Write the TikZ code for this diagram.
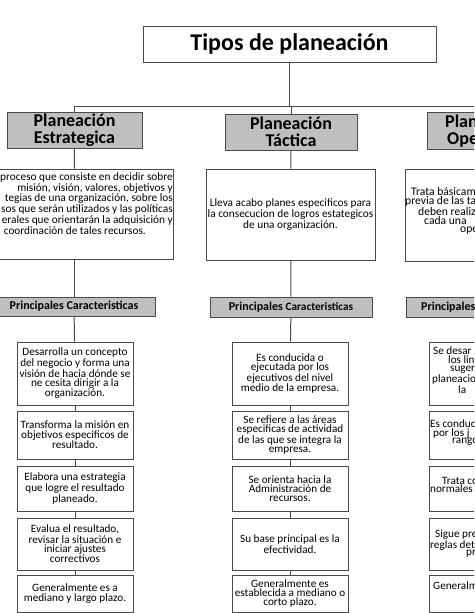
\documentclass[tikz,border=0pt]{standalone}
\usepackage{fontspec}
\setmainfont{Carlito}
\usetikzlibrary{positioning}
\definecolor{boxline}{HTML}{4A4A4A}
\definecolor{hdrfill}{HTML}{BFBFBF}
\tikzset{
  box/.style={draw=boxline, line width=1pt, fill=white, inner sep=1pt, align=center},
  hdr/.style={box, fill=hdrfill, font=\bfseries\fontsize{18}{16.7}\selectfont},
  prin/.style={box, fill=hdrfill, font=\bfseries\fontsize{12}{12}\selectfont},
  body/.style={font=\fontsize{11.2}{9.2}\selectfont},
  desc/.style={font=\fontsize{11.3}{9.2}\selectfont},
  frag/.style={inner sep=0pt, align=left, anchor=north west},
  link/.style={draw=boxline, line width=1pt},
}
\begin{document}
\begin{tikzpicture}[x=1pt,y=-1pt]
  \useasboundingbox (0,0) rectangle (474,613);
  \clip (0,0) rectangle (474,613);

  % title and bus
  \node[box, minimum width=293, minimum height=36, font=\bfseries\fontsize{24}{28}\selectfont] (title) at (289.5,44) {Tipos de planeación};
  \coordinate (busL) at (74.5,106); \coordinate (busR) at (480,106);

  % column headers
  \node[hdr, minimum width=135, minimum height=36] (estHdr) at (74.5,130) {Planeación\\Estrategica};
  \node[hdr, minimum width=132, minimum height=36] (tacHdr) at (291,132) {Planeación\\Táctica};
  \node[hdr, minimum width=132, minimum height=37] (opeHdr) at (493,130.5) {};
  \node[frag, font=\bfseries\fontsize{18}{16.7}\selectfont] (opeHdrTxt) at (445,114.5) {Plan\\\hspace*{2pt}Ope};

  % descriptions
  \node[box, minimum width=198, minimum height=90] (estDesc) at (74,214) {};
  \node[frag, desc, anchor=north east, align=right] (estDescTxt) at (173,172.5) {%
    proceso que consiste en decidir sobre\\
    misión, visión, valores, objetivos y\hspace*{17pt}\\
    tegias de una organización, sobre los\hspace*{4pt}\\
    sos que serán utilizados y las políticas\hspace*{1pt}\\
    erales que orientarán la adquisición y\hspace*{14pt}\\
    coordinación de tales recursos.\hspace*{27pt}};
  \node[box, desc, minimum width=169, minimum height=91] (tacDesc) at (290.5,214.5) {Lleva acabo planes especificos para\\la consecucion de logros estategicos\\de una organización.};
  \node[box, minimum width=169, minimum height=92] (opeDesc) at (489.5,215) {};
  \node[frag, font=\fontsize{11.6}{7.2}\selectfont] (opeDescTxt) at (405,187.5) {%
    \hspace*{6pt}Trata básicam\\
    previa de las ta\\
    \hspace*{13pt}deben realiz\\
    \hspace*{19pt}cada una\\
    \hspace*{55pt}ope};

  % principales caracteristicas
  \node[prin, minimum width=162, minimum height=19] (estPrin) at (74,306.5) {Principales Caracteristicas};
  \node[prin, minimum width=162, minimum height=20] (tacPrin) at (291,307) {Principales {\fontsize{11.3}{12}\selectfont Caracteristicas}};
  \node[prin, minimum width=162, minimum height=20] (opePrin) at (487,307) {};
  \node[frag, font=\bfseries\fontsize{12}{12}\selectfont, anchor=west] (opePrinTxt) at (421,307) {Principales};

  % caracteristicas: estrategica
  \node[box, body, minimum width=116, minimum height=63] (est1) at (75,373.5) {Desarrolla un concepto\\del negocio y forma una\\visión de hacia dónde se\\ne cesita dirigir a la\\organización.};
  \node[box, body, minimum width=116, minimum height=48] (est2) at (75,435) {Transforma la misión en\\objetivos especificos de\\resultado.};
  \node[box, body, minimum width=116, minimum height=45] (est3) at (75,488.5) {Elabora una estrategia\\que logre el resultado\\planeado.};
  \node[box, body, minimum width=116, minimum height=52] (est4) at (75,544) {Evalua el resultado,\\revisar la situación e\\iniciar ajustes\\correctivos};
  \node[box, body, minimum width=116, minimum height=37] (est5) at (75,593.5) {Generalmente es a\\mediano y largo plazo.};

  % caracteristicas: tactica
  \node[box, body, minimum width=116, minimum height=63] (tac1) at (290,373.5) {Es conducida o\\ejecutada por los\\ejecutivos del nivel\\medio de la empresa.};
  \node[box, body, minimum width=116, minimum height=48] (tac2) at (290,435) {Se refiere a las áreas\\especificas de actividad\\de las que se integra la\\empresa.};
  \node[box, body, minimum width=116, minimum height=45] (tac3) at (290,488.5) {Se orienta hacia la\\Administración de\\recursos.};
  \node[box, body, minimum width=116, minimum height=52] (tac4) at (290,544) {Su base principal es la\\efectividad.};
  \node[box, body, minimum width=116, minimum height=37] (tac5) at (290,593.5) {Generalmente es\\establecida a mediano o\\corto plazo.};

  % caracteristicas: operativa
  \node[box, minimum width=116, minimum height=63] (ope1) at (487,373.5) {};
  \node[box, minimum width=116, minimum height=48] (ope2) at (487,435) {};
  \node[box, minimum width=116, minimum height=45] (ope3) at (487,488.5) {};
  \node[box, minimum width=116, minimum height=52] (ope4) at (487,544) {};
  \node[box, minimum width=116, minimum height=37] (ope5) at (487,593.5) {};
  \node[frag, font=\fontsize{11.2}{8.7}\selectfont] (ope1Txt) at (432,346.5) {%
    \hspace*{1pt}Se desar\\
    \hspace*{16pt}los lin\\
    \hspace*{18pt}suger\\
    planeacio\\
    \hspace*{26pt}la};
  \node[frag, font=\fontsize{11.2}{7.5}\selectfont] (ope2Txt) at (430,419.5) {%
    Es conduc\\
    \hspace*{3pt}por los j\\
    \hspace*{22pt}rango};
  \node[frag, font=\fontsize{11.2}{8}\selectfont] (ope3Txt) at (430,477.5) {%
    \hspace*{12pt}Trata co\\
    normales};
  \node[frag, font=\fontsize{11.2}{7.5}\selectfont] (ope4Txt) at (430,529.5) {%
    \hspace*{5pt}Sigue pre\\
    reglas det\\
    \hspace*{36pt}pr};
  \node[frag, font=\fontsize{11.2}{8}\selectfont] (ope5Txt) at (433,581.5) {Generalm};

  % connectors
  \draw[link] (title.south) -- (title.south |- busL);
  \draw[link] (busL) -- (busR);
  \draw[link] (busL) -- (estHdr.north);
  \draw[link] (tacHdr.north |- busL) -- (tacHdr.north);
  \draw[link] (opeHdr.north |- busL) -- (opeHdr.north);
  \foreach \c in {est,tac,ope}{
    \draw[link] (\c Hdr) -- (\c Desc);
    \draw[link] (\c Desc) -- (\c Prin);
    \draw[link] (\c Prin) -- (\c 1);
    \foreach \a/\b in {1/2,2/3,3/4,4/5}
      \draw[link] (\c\a) -- (\c\b);
  }
\end{tikzpicture}
\end{document}
